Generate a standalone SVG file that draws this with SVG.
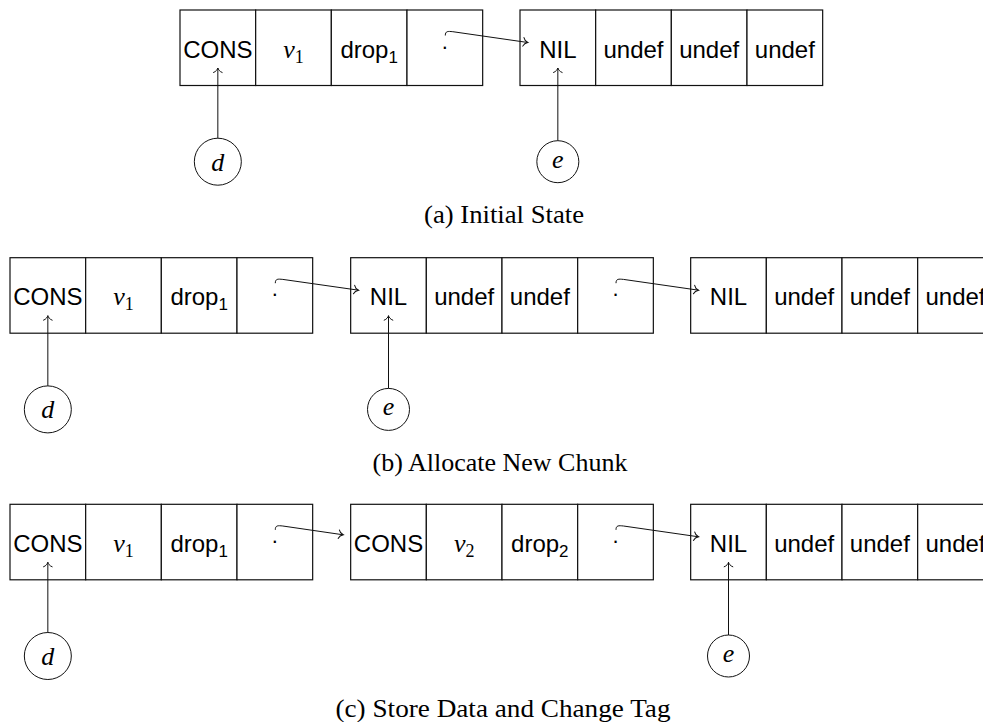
<svg xmlns="http://www.w3.org/2000/svg" width="983" height="722" viewBox="0 0 983 722">
<style>
.cell{fill:#fff;stroke:#111;stroke-width:1.2}
.lbl{font-family:"Liberation Sans",Arial,sans-serif;font-size:24px;fill:#000;text-anchor:middle}
.sub{font-size:17px}
.mi{font-family:"Liberation Serif","Times New Roman",serif;font-style:italic;font-size:26px;fill:#000;text-anchor:middle}
.rm{font-style:normal;font-size:18px}
.dot{font-family:"Liberation Sans",Arial,sans-serif;font-size:22px;fill:#000;text-anchor:middle}
.ptr{fill:#fff;stroke:#111;stroke-width:1}
.con{fill:none;stroke:#111;stroke-width:1}
.cap{font-family:"Liberation Serif","Times New Roman",serif;font-size:24.5px;fill:#000;text-anchor:middle}
</style>
<defs>
<marker id="ah" markerUnits="userSpaceOnUse" markerWidth="12" markerHeight="12" viewBox="-7 -6 9 12" refX="0" refY="0" orient="auto" overflow="visible">
<path d="M-4.5,-4.3 C-3.6,-1.6 -1.2,-0.4 0,0 C-1.2,0.4 -3.6,1.6 -4.5,4.3" fill="none" stroke="#111" stroke-width="1" stroke-linecap="round"/>
</marker>
</defs>

<!-- Row (a) -->
<g id="a-chunk1">
<rect class="cell" x="180" y="10" width="75.67" height="75.5"/>
<rect class="cell" x="255.67" y="10" width="75.67" height="75.5"/>
<rect class="cell" x="331.33" y="10" width="75.67" height="75.5"/>
<rect class="cell" x="407" y="10" width="75.67" height="75.5"/>
<text class="lbl" x="217.83" y="57.5">CONS</text>
<text class="mi" x="293.5" y="57.5">v<tspan class="rm" dy="5">1</tspan></text>
<text class="lbl" x="369.17" y="57.5">drop<tspan class="sub" dy="5">1</tspan></text>
<text class="dot" x="444.83" y="48.5">.</text>
</g>
<g id="a-chunk2">
<rect class="cell" x="520" y="10" width="75.67" height="75.5"/>
<rect class="cell" x="595.67" y="10" width="75.67" height="75.5"/>
<rect class="cell" x="671.33" y="10" width="75.67" height="75.5"/>
<rect class="cell" x="747" y="10" width="75.67" height="75.5"/>
<text class="lbl" x="557.83" y="57.5">NIL</text>
<text class="lbl" x="633.5" y="57.5">undef</text>
<text class="lbl" x="709.17" y="57.5">undef</text>
<text class="lbl" x="784.83" y="57.5">undef</text>
</g>
<g id="a-d"><circle class="ptr" cx="217.83" cy="161.7" r="23.5"/><text class="mi" x="217.83" y="170.6">d</text></g>
<g id="a-e"><circle class="ptr" cx="557.83" cy="161.7" r="21"/><text class="mi" x="557.83" y="167.6">e</text></g>
<text class="cap" x="504" y="223" textLength="160" lengthAdjust="spacingAndGlyphs">(a) Initial State</text>

<!-- Row (b) -->
<g id="b-chunk1">
<rect class="cell" x="10" y="257.7" width="75.67" height="75.5"/>
<rect class="cell" x="85.67" y="257.7" width="75.67" height="75.5"/>
<rect class="cell" x="161.33" y="257.7" width="75.67" height="75.5"/>
<rect class="cell" x="237" y="257.7" width="75.67" height="75.5"/>
<text class="lbl" x="47.83" y="305.2">CONS</text>
<text class="mi" x="123.5" y="305.2">v<tspan class="rm" dy="5">1</tspan></text>
<text class="lbl" x="199.17" y="305.2">drop<tspan class="sub" dy="5">1</tspan></text>
<text class="dot" x="274.83" y="296.2">.</text>
</g>
<g id="b-chunk2">
<rect class="cell" x="350.67" y="257.7" width="75.67" height="75.5"/>
<rect class="cell" x="426.33" y="257.7" width="75.67" height="75.5"/>
<rect class="cell" x="502" y="257.7" width="75.67" height="75.5"/>
<rect class="cell" x="577.67" y="257.7" width="75.67" height="75.5"/>
<text class="lbl" x="388.5" y="305.2">NIL</text>
<text class="lbl" x="464.17" y="305.2">undef</text>
<text class="lbl" x="539.83" y="305.2">undef</text>
<text class="dot" x="615.5" y="296.2">.</text>
</g>
<g id="b-chunk3">
<rect class="cell" x="690.67" y="257.7" width="75.67" height="75.5"/>
<rect class="cell" x="766.33" y="257.7" width="75.67" height="75.5"/>
<rect class="cell" x="842" y="257.7" width="75.67" height="75.5"/>
<rect class="cell" x="917.67" y="257.7" width="75.67" height="75.5"/>
<text class="lbl" x="728.5" y="305.2">NIL</text>
<text class="lbl" x="804.17" y="305.2">undef</text>
<text class="lbl" x="879.83" y="305.2">undef</text>
<text class="lbl" x="955.5" y="305.2">undef</text>
</g>
<g id="b-d"><circle class="ptr" cx="47.83" cy="409.4" r="23.5"/><text class="mi" x="47.83" y="418.3">d</text></g>
<g id="b-e"><circle class="ptr" cx="388.5" cy="409.4" r="21"/><text class="mi" x="388.5" y="415.3">e</text></g>
<text class="cap" x="500" y="470.7" textLength="255" lengthAdjust="spacingAndGlyphs">(b) Allocate New Chunk</text>

<!-- Row (c) -->
<g id="c-chunk1">
<rect class="cell" x="10" y="504.3" width="75.67" height="75.5"/>
<rect class="cell" x="85.67" y="504.3" width="75.67" height="75.5"/>
<rect class="cell" x="161.33" y="504.3" width="75.67" height="75.5"/>
<rect class="cell" x="237" y="504.3" width="75.67" height="75.5"/>
<text class="lbl" x="47.83" y="551.8">CONS</text>
<text class="mi" x="123.5" y="551.8">v<tspan class="rm" dy="5">1</tspan></text>
<text class="lbl" x="199.17" y="551.8">drop<tspan class="sub" dy="5">1</tspan></text>
<text class="dot" x="274.83" y="542.8">.</text>
</g>
<g id="c-chunk2">
<rect class="cell" x="350.67" y="504.3" width="75.67" height="75.5"/>
<rect class="cell" x="426.33" y="504.3" width="75.67" height="75.5"/>
<rect class="cell" x="502" y="504.3" width="75.67" height="75.5"/>
<rect class="cell" x="577.67" y="504.3" width="75.67" height="75.5"/>
<text class="lbl" x="388.5" y="551.8">CONS</text>
<text class="mi" x="464.17" y="551.8">v<tspan class="rm" dy="5">2</tspan></text>
<text class="lbl" x="539.83" y="551.8">drop<tspan class="sub" dy="5">2</tspan></text>
<text class="dot" x="615.5" y="542.8">.</text>
</g>
<g id="c-chunk3">
<rect class="cell" x="690.67" y="504.3" width="75.67" height="75.5"/>
<rect class="cell" x="766.33" y="504.3" width="75.67" height="75.5"/>
<rect class="cell" x="842" y="504.3" width="75.67" height="75.5"/>
<rect class="cell" x="917.67" y="504.3" width="75.67" height="75.5"/>
<text class="lbl" x="728.5" y="551.8">NIL</text>
<text class="lbl" x="804.17" y="551.8">undef</text>
<text class="lbl" x="879.83" y="551.8">undef</text>
<text class="lbl" x="955.5" y="551.8">undef</text>
</g>
<g id="c-d"><circle class="ptr" cx="47.83" cy="656" r="23.5"/><text class="mi" x="47.83" y="664.9">d</text></g>
<g id="c-e"><circle class="ptr" cx="728.5" cy="656" r="21"/><text class="mi" x="728.5" y="661.9">e</text></g>
<text class="cap" x="503" y="717" textLength="335" lengthAdjust="spacingAndGlyphs">(c) Store Data and Change Tag</text>

<g id="connectors">
<path class="con" marker-end="url(#ah)" d="M217.83,138.2 L217.83,68"/>
<path class="con" marker-end="url(#ah)" d="M557.83,140.7 L557.83,68"/>
<path class="con" marker-end="url(#ah)" d="M445.3,35.5 C445.3,31 447.8,31.2 452.8,31.7 L527.8,42.5"/>

<path class="con" marker-end="url(#ah)" d="M47.83,385.9 L47.83,315.7"/>
<path class="con" marker-end="url(#ah)" d="M388.5,388.4 L388.5,315.7"/>
<path class="con" marker-end="url(#ah)" d="M275.3,283.2 C275.3,278.7 277.8,278.9 282.8,279.4 L358.5,290.2"/>
<path class="con" marker-end="url(#ah)" d="M616,283.2 C616,278.7 618.5,278.9 623.5,279.4 L698.5,290.2"/>

<path class="con" marker-end="url(#ah)" d="M47.83,632.5 L47.83,562.3"/>
<path class="con" marker-end="url(#ah)" d="M728.5,635 L728.5,562.3"/>
<path class="con" marker-end="url(#ah)" d="M275.3,529.8 C275.3,525.3 277.8,525.5 282.8,526 L343.2,534.8"/>
<path class="con" marker-end="url(#ah)" d="M616,529.8 C616,525.3 618.5,525.5 623.5,526 L698.5,536.8"/>
</g>
</svg>
